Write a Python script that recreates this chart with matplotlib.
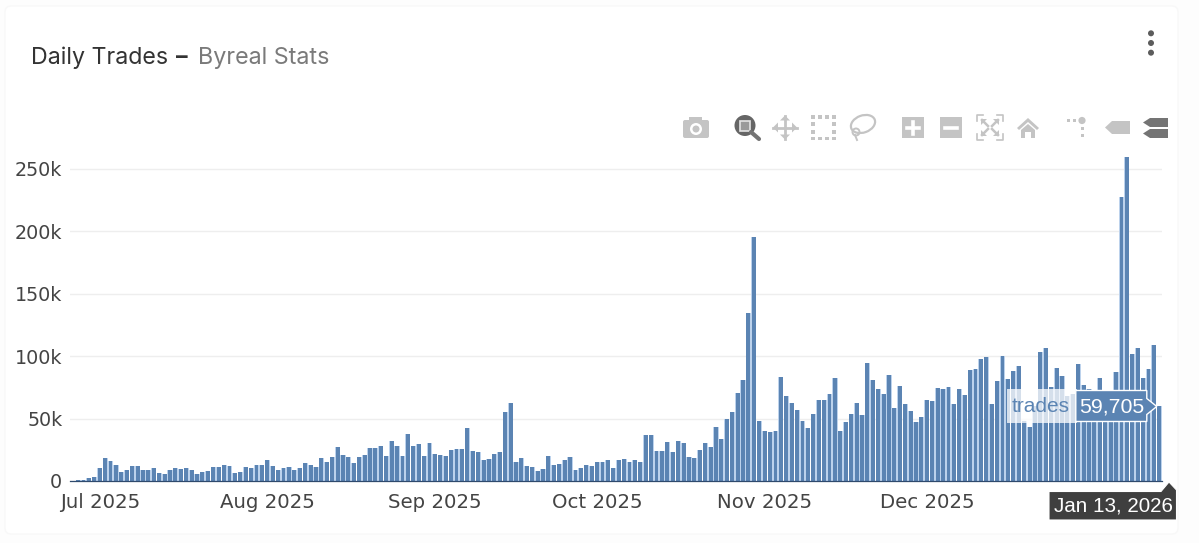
import numpy as np
import pandas as pd
import matplotlib
matplotlib.use('Agg')
import matplotlib.pyplot as plt
from matplotlib.patches import Circle, Ellipse, FancyBboxPatch, Polygon, Rectangle
from matplotlib.ticker import FuncFormatter

# daily trades in thousands, split by month
trades_jun = [0.3, 1, 1, 2.5, 3]
trades_jul = [10.7, 18.4, 15.8, 12.5, 7.5, 8.5, 11.7, 11.7, 9, 9, 10.7, 6.7, 5.6, 9, 10.4, 9.6,
              10.1, 8.8, 5.6, 7.2, 8, 11, 11, 12.8, 12.3, 6.4, 7.2, 11.2, 10.1, 13, 12.5]
trades_aug = [17, 12, 9, 10.4, 11, 9, 10.1, 14.2, 12.8, 11.5, 18.7, 15, 19, 27.5, 21, 19.5,
              14.2, 19, 21, 26.5, 26.5, 28.3, 20, 32.3, 28, 20.3, 37.7, 27.8, 30, 19.8, 30.7]
trades_sep = [21.9, 21, 19.8, 24.8, 25.6, 25.9, 42.5, 24.3, 23, 16.8, 17.4, 21.9, 23.5, 55.6, 62.5,
              15, 18.4, 12, 11, 8, 9.3, 20.3, 12.5, 13.9, 17, 19.5, 8.8, 10.1, 12.8, 12]
trades_oct = [15, 15, 16.6, 10.4, 16.6, 17.4, 15, 17, 15.5, 37, 37, 24.3, 23.8, 31.3, 23.2, 32.3,
              30.4, 19, 18.2, 24.6, 30.7, 27.2, 43.3, 33.7, 49.7, 55, 70.8, 81.2, 134.4, 195.2, 48]
trades_nov = [40.3, 39.3, 40.3, 83, 68.4, 62.8, 56.6, 47.8, 42.7, 53.4, 65.2, 64.6, 69.7, 82.5, 39.8,
              47, 53.7, 62.8, 52.6, 94.6, 81.2, 73.7, 69.7, 85, 58.2, 76.4, 61.7, 55.8, 47, 51]
trades_dec = [64.9, 64.1, 74.8, 73.7, 75, 61.7, 73.4, 68.6, 89.2, 89.5, 97.8, 99.4, 62, 79.9, 100.4, 82,
              87.9, 92.1, 48, 43.5, 60, 103, 106.6, 75, 90.8, 84, 68, 70, 93.8, 77, 73.7]
trades_jan = [65, 82.8, 64, 62, 87, 227.3, 259.3, 101.5, 106.3, 82.5, 89.5, 108.7, 59.705]

first_day = '2025-06-26'
month_ticks = ['2025-07-01', '2025-08-01', '2025-09-01', '2025-10-01', '2025-11-01', '2025-12-01']
month_labels = ['Jul 2025', 'Aug 2025', 'Sep 2025', 'Oct 2025', 'Nov 2025', 'Dec 2025']
y_ticks = [0, 50000, 100000, 150000, 200000, 250000]

trades = np.array(trades_jun + trades_jul + trades_aug + trades_sep + trades_oct
                  + trades_nov + trades_dec + trades_jan) * 1000
days = pd.date_range(first_day, periods=len(trades), freq='D')

BAR = '#5b84b3'
GUTTER = '#bcd2ec'
ICON = '#c4c4c4'
ICON_ON = '#747474'

W, H = 1199, 543
fig = plt.figure(figsize=(W / 100, H / 100), dpi=100, facecolor='#fdfdfd')

# page overlay in pixel coordinates, for card, toolbar and hover labels
bg = fig.add_axes([0, 0, 1, 1], zorder=0)
bg.set_xlim(0, W)
bg.set_ylim(H, 0)
bg.axis('off')
bg.add_patch(FancyBboxPatch((5, 6), 1173, 528, boxstyle='round,pad=0,rounding_size=6',
                            fc='white', ec='#f8f8f8', lw=1))

# chart
ax = fig.add_axes([70 / W, 1 - 481 / H, 1092 / W, 324 / H], zorder=1)
ax.patch.set_alpha(0)
ax.bar(days, trades, width=0.95, color=GUTTER, linewidth=0)
ax.bar(days, trades, width=0.72, color=BAR, linewidth=0)
ax.set_xlim(days[0] - pd.Timedelta(hours=12), days[-1] + pd.Timedelta(hours=12))
ax.set_ylim(0, 324 / 312 * 250000)

ax.set_yticks(y_ticks)
ax.yaxis.set_major_formatter(FuncFormatter(lambda v, p: '0' if v == 0 else '%dk' % (v / 1000)))
ax.set_xticks(pd.to_datetime(month_ticks))
ax.set_xticklabels(month_labels)
ax.tick_params(axis='y', length=0, pad=5.5, labelsize=13.8, labelcolor='#444444')
ax.tick_params(axis='x', length=0, pad=8.5, labelsize=14.2, labelcolor='#444444')
ax.grid(axis='y', color='#eeeeee', lw=1)
ax.set_axisbelow(True)
for side in ['top', 'left', 'right']:
    ax.spines[side].set_visible(False)
ax.spines['bottom'].set_color('#2f4a6d')
ax.spines['bottom'].set_linewidth(0.9)

# top overlay
top = fig.add_axes([0, 0, 1, 1], zorder=2)
top.set_xlim(0, W)
top.set_ylim(H, 0)
top.axis('off')
top.patch.set_alpha(0)

# title
top.text(31, 64, 'Daily Trades', family='Inter', fontsize=16.7, color='#333333', va='baseline')
top.text(176, 64, '–', family='Inter', fontsize=16.7, color='#333333', va='baseline', fontweight='bold')
top.text(198, 64, 'Byreal Stats', family='Inter', fontsize=16.8, color='#7a7a7a', va='baseline')

# kebab menu
for y in [33.3, 43, 52.7]:
    top.add_patch(Circle((1151, y), 3, fc='#5c5c5c', ec='none'))

# camera
top.add_patch(FancyBboxPatch((683, 120), 26, 18, boxstyle='round,pad=0,rounding_size=2', fc=ICON, ec='none'))
top.add_patch(Rectangle((689, 117), 13, 4, fc=ICON, ec='none'))
top.add_patch(Circle((696, 129), 6, fc='white', ec='none'))
top.add_patch(Circle((696, 129), 3.5, fc=ICON, ec='none'))

# zoom (active)
top.plot([751, 759], [132, 139], color=ICON_ON, lw=3, solid_capstyle='round')
top.add_patch(Circle((745, 125.5), 10.5, fc='#666666', ec='none'))
top.add_patch(Rectangle((740, 120.5), 10, 10, fc='#9a9a9a', ec='#e4e4e4', lw=1.2))

# pan
top.plot([773, 797], [127.5, 127.5], color=ICON, lw=2)
top.plot([785, 785], [116, 139], color=ICON, lw=2)
for px, py, dx, dy in [(773, 127.5, 5, 0), (797, 127.5, -5, 0), (785, 115.5, 0, 5), (785, 139.5, 0, -5)]:
    top.add_patch(Polygon([(px, py), (px + dx + dy, py + dy + dx), (px + dx - dy, py + dy - dx)],
                          fc=ICON, ec='none'))

# box select
for x in [811, 818, 825, 832]:
    top.add_patch(Rectangle((x, 115), 3.5, 3.5, fc=ICON, ec='none'))
    top.add_patch(Rectangle((x, 136.5), 3.5, 3.5, fc=ICON, ec='none'))
for y in [122, 130]:
    top.add_patch(Rectangle((811, y), 3.5, 3.5, fc=ICON, ec='none'))
    top.add_patch(Rectangle((832, y), 3.5, 3.5, fc=ICON, ec='none'))

# lasso
top.add_patch(Ellipse((863, 124), 25, 17, angle=-20, fc='none', ec=ICON, lw=1.6))
top.add_patch(Circle((856, 132), 3.5, fc='none', ec=ICON, lw=1.4))
top.plot([855, 857], [135, 140], color=ICON, lw=1.4)

# zoom in / out
top.add_patch(Rectangle((902, 117), 22, 21, fc=ICON, ec='none'))
top.plot([907, 919], [127.5, 127.5], color='white', lw=2.6)
top.plot([913, 913], [121.5, 133.5], color='white', lw=2.6)
top.add_patch(Rectangle((940, 117), 22, 21, fc=ICON, ec='none'))
top.plot([945, 957], [127.5, 127.5], color='white', lw=2.6)

# autoscale
for x0, sx in [(977, 1), (1003, -1)]:
    for y0, sy in [(115, 1), (140, -1)]:
        top.plot([x0 + 6 * sx, x0, x0], [y0, y0, y0 + 6 * sy], color=ICON, lw=1.2)
        top.plot([x0 + 5 * sx, x0 + 11 * sx], [y0 + 5 * sy, y0 + 11 * sy], color=ICON, lw=1.8)
        top.add_patch(Polygon([(x0 + 4 * sx, y0 + 4 * sy), (x0 + 10 * sx, y0 + 4 * sy), (x0 + 4 * sx, y0 + 10 * sy)],
                              fc=ICON, ec='none'))

# home
top.add_patch(Polygon([(1017, 128), (1028, 118), (1039, 128), (1037, 130), (1028, 122), (1019, 130)], fc=ICON, ec='none'))
top.add_patch(Polygon([(1021, 130), (1028, 124), (1035, 130), (1035, 138), (1031, 138), (1031, 132),
                       (1025, 132), (1025, 138), (1021, 138)], fc=ICON, ec='none'))

# spike lines
for x, y in [(1067, 119), (1073, 119), (1080.5, 127), (1080.5, 134)]:
    top.add_patch(Rectangle((x, y), 3, 3, fc=ICON, ec='none'))
top.add_patch(Circle((1082, 120.5), 3.6, fc=ICON, ec='none'))

# hover tags
top.add_patch(Polygon([(1105, 127.5), (1112, 121), (1130, 121), (1130, 134), (1112, 134)], fc=ICON, ec='none'))
for y in [118, 129]:
    top.add_patch(Polygon([(1143, y + 4.5), (1150, y), (1168, y), (1168, y + 9), (1150, y + 9)], fc=ICON_ON, ec='none'))

# hover label at the last bar, built around its position
tip_x, tip_y = ax.transData.transform((matplotlib.dates.date2num(days[-1]), trades[-1]))
tip_y = H - tip_y
tip_x -= 2.5
top.add_patch(Rectangle((tip_x - 150, tip_y - 17), 70, 34, fc='white', ec='none', alpha=0.75))
top.add_patch(Polygon([(tip_x, tip_y), (tip_x - 10, tip_y - 8), (tip_x - 10, tip_y - 16), (tip_x - 81, tip_y - 16),
                       (tip_x - 81, tip_y + 15), (tip_x - 10, tip_y + 15), (tip_x - 10, tip_y + 8)],
                      fc=BAR, ec='white', lw=1))
top.text(tip_x - 78, tip_y + 0.5, f'{int(trades[-1]):,}', family='Liberation Sans', fontsize=15.3, color='white',
         ha='left', va='center')
top.text(tip_x - 145, tip_y + 0.5, 'trades', family='Liberation Sans', fontsize=15, color=BAR, ha='left', va='center')

top.add_patch(Polygon([(1049, 491.5), (1161, 491.5), (1169, 482), (1176.5, 490), (1176.5, 520), (1049, 520)],
                      fc='#3f3f3f', ec='white', lw=0.8))
top.text(1053.5, 506.5, days[-1].strftime('%b %-d, %Y'), family='Liberation Sans', fontsize=14.9, color='white',
         ha='left', va='center')

fig.savefig('out.png', dpi=100, facecolor=fig.get_facecolor())
